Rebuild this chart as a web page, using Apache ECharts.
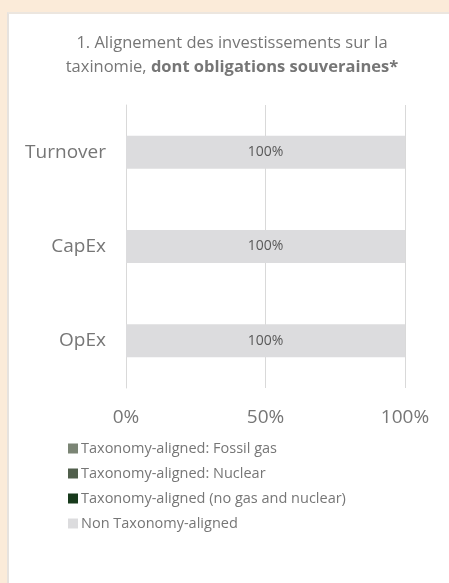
<!DOCTYPE html>
<html>
<head>
<meta charset="utf-8">
<script src="https://cdn.jsdelivr.net/npm/echarts@6/dist/echarts.min.js"></script>
<style>
html, body { margin: 0; padding: 0; background: #fbebd9; }
#card { position: absolute; left: 7px; top: 12px; width: 442px; height: 571px; background: #ffffff; border-left: 2px solid #e6e2de; border-top: 2px solid #ece6df; box-sizing: border-box; }
#echart { position: absolute; left: 0; top: 0; width: 449px; height: 583px; }
</style>
</head>
<body>
<div id="card"></div>
<div id="echart"></div>
<script>
// catégories (de haut en bas)
var categories = ['Turnover', 'CapEx', 'OpEx'];
var seriesNames = [
    'Taxonomy-aligned: Fossil gas',
    'Taxonomy-aligned: Nuclear',
    'Taxonomy-aligned (no gas and nuclear)',
    'Non Taxonomy-aligned'
];
var fossilGas = [0, 0, 0];
var nuclear = [0, 0, 0];
var alignedOther = [0, 0, 0];
var nonAligned = [100, 100, 100];
var xTicks = [0, 50, 100];
var colors = ['#7b8575', '#515f4c', '#183a1c', '#dcdcde'];

var dom = document.getElementById('echart');
var myChart = echarts.init(dom);
var font = '"Open Sans", sans-serif';

var values = [fossilGas, nuclear, alignedOther, nonAligned];
var series = [];
for (var i = 0; i < values.length; i++) {
    series.push({
        name: seriesNames[i],
        type: 'bar',
        stack: 'total',
        barWidth: '35%',
        itemStyle: { color: colors[i] },
        label: {
            show: i == 3,   // seule la part non alignée est étiquetée
            position: 'inside',
            formatter: '{c}%',
            color: '#595959',
            fontSize: 14,
            fontFamily: font
        },
        data: values[i]
    });
}

option = {
    animation: false,
    title: {
        text: '1. Alignement des investissements sur la\ntaxinomie, {b|dont obligations souveraines*}',
        left: 232,
        textAlign: 'center',
        top: 31,
        padding: 0,
        textStyle: {
            color: '#767676',
            fontSize: 16.5,
            fontWeight: 'normal',
            fontFamily: font,
            lineHeight: 24,
            rich: {
                b: { fontWeight: 'bold', fontSize: 16.5, color: '#767676', fontFamily: font, lineHeight: 24 }
            }
        }
    },
    legend: {
        orient: 'vertical',
        left: 63,
        top: 436,
        itemWidth: 10,
        itemHeight: 10,
        itemGap: 10,
        icon: 'rect',
        data: seriesNames,
        textStyle: { color: '#767676', fontSize: 14.5, lineHeight: 14, fontFamily: font, padding: [0, 0, 0, -2] }
    },
    grid: { left: 126, right: 44, top: 105, bottom: 195, containLabel: false },
    xAxis: {
        type: 'value',
        min: xTicks[0],
        max: xTicks[xTicks.length - 1],
        interval: xTicks[1] - xTicks[0],
        axisLine: { show: false },
        axisTick: { show: false },
        splitLine: { lineStyle: { color: '#d9d9d9', width: 1 } },
        axisLabel: { formatter: '{value}%', color: '#767676', fontSize: 19, fontFamily: font, margin: 20 }
    },
    yAxis: {
        type: 'category',
        inverse: true,
        data: categories,
        axisLine: { lineStyle: { color: '#d9d9d9' } },
        axisTick: { length: 6, lineStyle: { color: '#d9d9d9' } },
        axisLabel: { color: '#767676', fontSize: 19, fontFamily: font, margin: 20 }
    },
    series: series
};

myChart.setOption(option);
</script>
</body>
</html>
